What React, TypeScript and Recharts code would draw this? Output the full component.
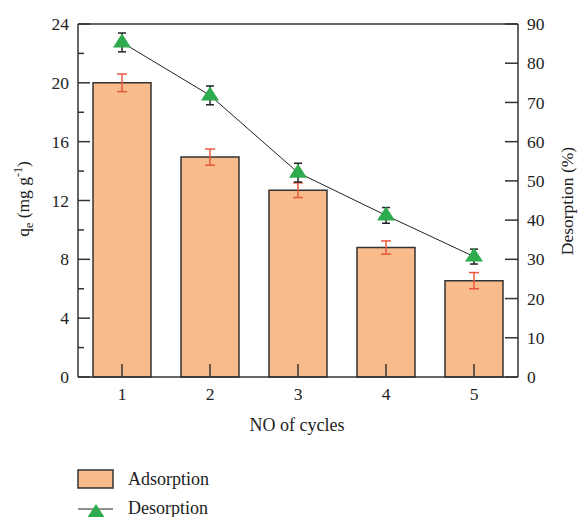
import React from 'react';
import {
  ComposedChart,
  Bar,
  Line,
  XAxis,
  YAxis,
  ErrorBar,
  ReferenceLine,
  Legend,
} from 'recharts';

const cycles = ['1', '2', '3', '4', '5'];
const adsorption = [20.0, 14.95, 12.7, 8.8, 6.55];
const adsorptionErr = [0.6, 0.55, 0.5, 0.45, 0.55];
const desorption = [85.3, 71.8, 52.1, 41.2, 30.7];
const desorptionErr = [2.4, 2.4, 2.4, 2.0, 1.9];

const leftTicks = [0, 2, 4, 6, 8, 10, 12, 14, 16, 18, 20, 22, 24];
const rightTicks = [0, 10, 20, 30, 40, 50, 60, 70, 80, 90];

const data = cycles.map((c, i) => ({
  cycle: c,
  adsorption: adsorption[i],
  adsErr: adsorptionErr[i],
  desorption: desorption[i],
  desErr: desorptionErr[i],
}));

const FONT = '"Liberation Serif", "DejaVu Serif", serif';
const AXIS = '#333';
const TEXT = '#222';
const BAR_FILL = '#F8BB8C';
const BAR_ERR = '#E8593C';
const GREEN = '#2EAB4E';

const LeftTick = (props: any) => {
  const { x, y, payload } = props;
  const major = payload.value % 4 === 0;
  return (
    <g>
      <line x1={x} x2={x + (major ? 12 : 6)} y1={y} y2={y} stroke={AXIS} strokeWidth={1.5} />
      {major && (
        <text x={x - 9} y={y} dy="0.35em" textAnchor="end" fontSize={17.5} fontFamily={FONT} fill={TEXT}>
          {payload.value}
        </text>
      )}
    </g>
  );
};

const RightTick = (props: any) => {
  const { x, y, payload } = props;
  return (
    <g>
      <line x1={x - 13} x2={x} y1={y} y2={y} stroke={AXIS} strokeWidth={1.5} />
      <text x={x + 9} y={y} dy="0.35em" textAnchor="start" fontSize={17.5} fontFamily={FONT} fill={TEXT}>
        {payload.value}
      </text>
    </g>
  );
};

const BottomTick = (props: any) => {
  const { x, y, payload } = props;
  return (
    <g>
      <line x1={x} x2={x} y1={y} y2={y - 13} stroke={AXIS} strokeWidth={1.5} />
      <text x={x} y={y + 23} textAnchor="middle" fontSize={17.5} fontFamily={FONT} fill={TEXT}>
        {payload.value}
      </text>
    </g>
  );
};

// triangle marker for the desorption series
const Triangle = (props: any) => {
  const { cx, cy, index } = props;
  if (cx == null || cy == null) return <g key={`t-${index}`} />;
  return (
    <polygon
      key={`t-${index}`}
      points={`${cx},${cy - 9} ${cx - 9},${cy + 5} ${cx + 9},${cy + 5}`}
      fill={GREEN}
    />
  );
};

const LeftTitle = () => (
  <text
    x={29}
    y={199}
    transform="rotate(-90 29 199)"
    textAnchor="middle"
    fontSize={17.5}
    fontFamily={FONT}
    fill={TEXT}
  >
    q
    <tspan fontSize={12} dy={4}>e</tspan>
    <tspan dy={-4}> (mg g</tspan>
    <tspan fontSize={12} dy={-7}>-1</tspan>
    <tspan dy={7}>)</tspan>
  </text>
);

const RightTitle = () => (
  <text
    x={573}
    y={201}
    transform="rotate(-90 573 201)"
    textAnchor="middle"
    fontSize={17.5}
    fontFamily={FONT}
    fill={TEXT}
  >
    Desorption (%)
  </text>
);

const BottomTitle = () => (
  <text x={297} y={431} textAnchor="middle" fontSize={18} fontFamily={FONT} fill={TEXT}>
    NO of cycles
  </text>
);

const LegendBox = () => (
  <svg width={200} height={60} style={{ display: 'block', overflow: 'visible' }}>
    <rect x={8} y={8} width={35} height={18} fill={BAR_FILL} stroke={AXIS} strokeWidth={1.5} />
    <text x={58} y={23} fontSize={18} fontFamily={FONT} fill={TEXT}>
      Adsorption
    </text>
    <line x1={8} x2={43} y1={47} y2={47} stroke="#222" strokeWidth={1} />
    <polygon points="26,42 17,56 35,56" fill={GREEN} />
    <text x={58} y={52} fontSize={18} fontFamily={FONT} fill={TEXT}>
      Desorption
    </text>
  </svg>
);

const App: React.FC = () => {
  return (
    <div style={{ position: 'absolute', left: 0, top: 0 }}>
      <ComposedChart
        width={579}
        height={517}
        data={data}
        margin={{ top: 24, right: 0, bottom: 0, left: 0 }}
        barSize={58}
      >
        <Bar
          yAxisId="left"
          dataKey="adsorption"
          name="Adsorption"
          fill={BAR_FILL}
          stroke={AXIS}
          strokeWidth={1.5}
          isAnimationActive={false}
        >
          <ErrorBar dataKey="adsErr" width={5} stroke={BAR_ERR} strokeWidth={1.5} />
        </Bar>
        <Line
          yAxisId="right"
          dataKey="desorption"
          name="Desorption"
          stroke="#222"
          strokeWidth={1}
          dot={Triangle}
          activeDot={false}
          isAnimationActive={false}
        >
          <ErrorBar dataKey="desErr" width={4} stroke="#222" strokeWidth={1.5} direction="y" />
        </Line>
        <ReferenceLine yAxisId="left" y={24} stroke={AXIS} strokeWidth={1.5} />
        <XAxis
          dataKey="cycle"
          height={140}
          tickSize={0}
          tickMargin={0}
          interval={0}
          stroke={AXIS}
          strokeWidth={1.5}
          tick={BottomTick}
          label={{ content: BottomTitle }}
        />
        <YAxis
          yAxisId="left"
          width={78}
          domain={[0, 24]}
          ticks={leftTicks}
          interval={0}
          tickSize={0}
          tickMargin={0}
          stroke={AXIS}
          strokeWidth={1.5}
          tick={LeftTick}
          label={{ content: LeftTitle }}
        />
        <YAxis
          yAxisId="right"
          orientation="right"
          width={61}
          domain={[0, 90]}
          ticks={rightTicks}
          interval={0}
          tickSize={0}
          tickMargin={0}
          stroke={AXIS}
          strokeWidth={1.5}
          tick={RightTick}
          label={{ content: RightTitle }}
        />
        <Legend
          layout="horizontal"
          verticalAlign="middle"
          align="center"
          content={LegendBox}
          wrapperStyle={{ left: 70, top: 462, width: 200, height: 60 }}
        />
      </ComposedChart>
    </div>
  );
};

export default App;
